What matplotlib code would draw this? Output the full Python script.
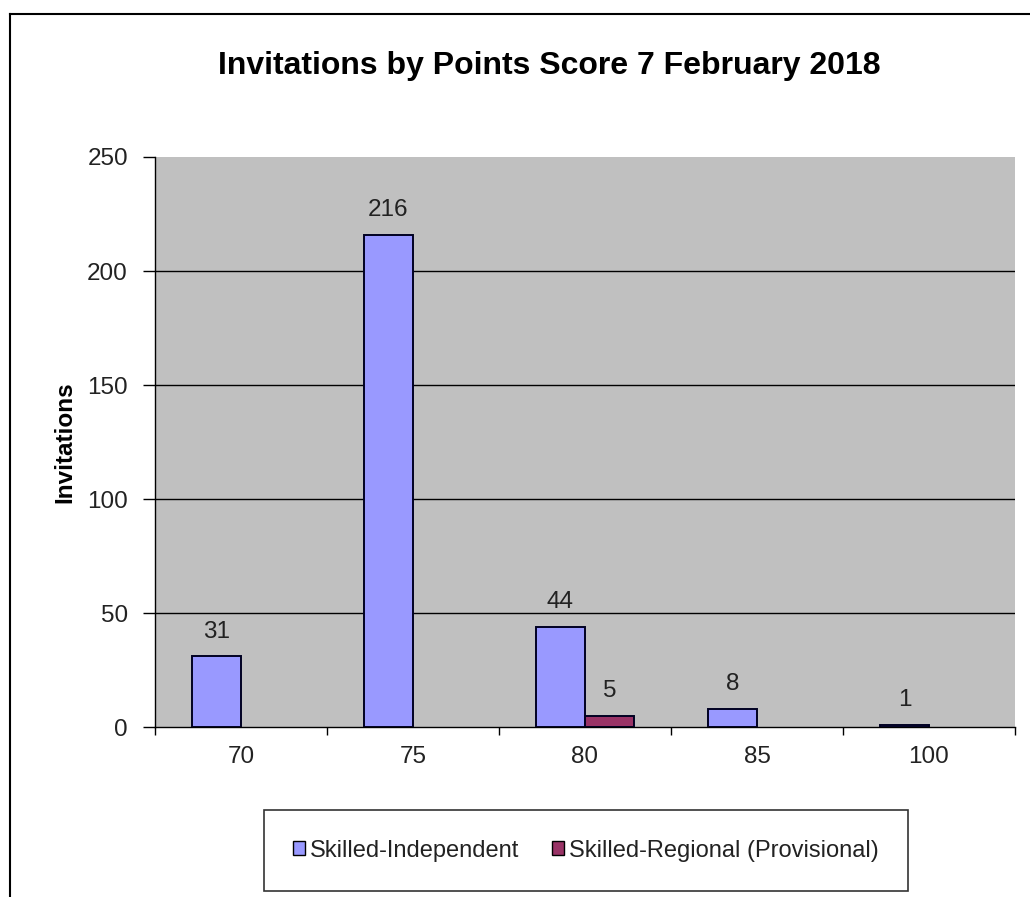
import numpy as np
import matplotlib.pyplot as plt
from matplotlib.lines import Line2D
from matplotlib.patches import Patch

# data
points = ['70', '75', '80', '85', '100']
skilled_independent = [31, 216, 44, 8, 1]
skilled_regional = [np.nan, np.nan, 5, np.nan, np.nan]

plt.rcParams['font.family'] = ['Liberation Sans', 'DejaVu Sans']

fig = plt.figure(figsize=(10.30, 8.97), dpi=100)
ax = fig.add_axes([155 / 1030, 1 - 727 / 897, 860 / 1030, 570 / 897])
ax.set_facecolor('#C0C0C0')

x = np.arange(len(points))
w = 1 / 3.5
b1 = ax.bar(x - w / 2, skilled_independent, w, color='#9999FF',
            edgecolor='#000022', linewidth=1.4, label='Skilled-Independent', zorder=3)
b2 = ax.bar(x + w / 2, skilled_regional, w, color='#993366',
            edgecolor='#000022', linewidth=1.4, label='Skilled-Regional (Provisional)', zorder=3)

for bars, vals in ((b1, skilled_independent), (b2, skilled_regional)):
    for rect, v in zip(bars, vals):
        if np.isnan(v):
            continue
        ax.annotate(f'{v:g}', (rect.get_x() + rect.get_width() / 2, v),
                    xytext=(0, 17.5), textcoords='offset points',
                    ha='center', va='center', fontsize=17.5, color='#222222')

ax.set_ylim(0, 250)
ax.set_xlim(-0.5, len(points) - 0.5)
ax.set_yticks([0, 50, 100, 150, 200, 250])
ax.tick_params(axis='y', labelsize=17.5, length=8.5, width=1, pad=11, labelcolor='#222222')
for y in [50, 100, 150, 200]:
    ax.axhline(y, color='black', linewidth=1, zorder=1)

# category boundaries as ticks, labels in the middle
ax.set_xticks(np.arange(-0.5, len(points)))
ax.set_xticklabels([])
ax.set_xticks(x, minor=True)
ax.set_xticklabels(points, minor=True)
ax.tick_params(axis='x', which='major', length=6, width=1)
ax.tick_params(axis='x', which='minor', length=0, labelsize=17.5, pad=14, labelcolor='#222222')

for s in ['top', 'right']:
    ax.spines[s].set_visible(False)
ax.spines['left'].set_linewidth(1)
ax.spines['bottom'].set_linewidth(1)

ax.set_ylabel('Invitations', fontsize=17.5, fontweight='bold')
ax.yaxis.set_label_coords((76 - 155) / 860, 0.5)
fig.text(549 / 1030, 1 - 66 / 897, 'Invitations by Points Score 7 February 2018',
         ha='center', va='center', fontsize=23, fontweight='bold')

handles = [Patch(facecolor='#9999FF', edgecolor='black'),
           Patch(facecolor='#993366', edgecolor='black')]
leg = fig.legend(handles, ['Skilled-Independent', 'Skilled-Regional (Provisional)'],
                 loc='center', bbox_to_anchor=(586 / 1030, 1 - 850.5 / 897),
                 ncol=2, fontsize=17, frameon=True, fancybox=False,
                 edgecolor='black', handlelength=0.5, handleheight=0.5,
                 handletextpad=0.2, columnspacing=1.4, borderpad=1.25)
leg.get_frame().set_linewidth(1.2)
for t in leg.get_texts():
    t.set_color('#222222')

# chart area border (cropped at right and bottom)
fig.add_artist(Line2D([10 / 1030, 10 / 1030], [0, 1 - 14 / 897], color='black', linewidth=1.5))
fig.add_artist(Line2D([10 / 1030, 1], [1 - 14 / 897, 1 - 14 / 897], color='black', linewidth=1.5))

fig.savefig('out.png', dpi=100)
